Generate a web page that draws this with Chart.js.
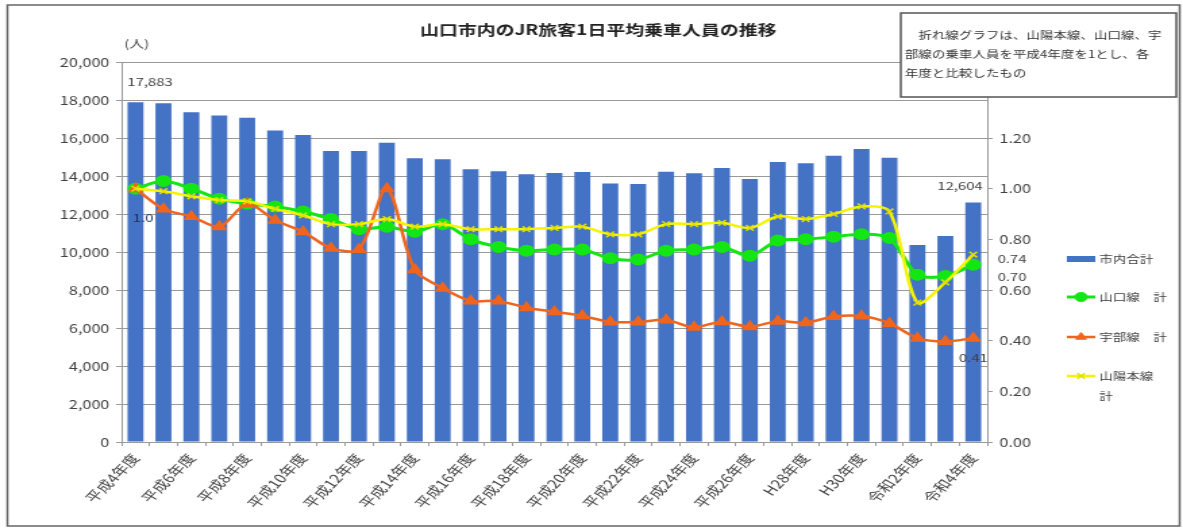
<!DOCTYPE html>
<html lang="ja">
<head>
<meta charset="utf-8">
<title>山口市内のJR旅客1日平均乗車人員の推移</title>
<script src="https://cdn.jsdelivr.net/npm/chart.js@4.4.1/dist/chart.umd.min.js"></script>
<style>
  html, body { margin: 0; padding: 0; background: #fff; overflow: hidden; }
  #wrap { width: 1183px; height: 530px; }
  /* the original picture is stretched sideways, so the canvas is too */
  #grafico { transform: scaleX(1.3505); transform-origin: 0 0; }
</style>
</head>
<body>
<div id="wrap"><canvas id="grafico" width="876" height="530"></canvas></div>
<script>
const titulo = '山口市内のJR旅客1日平均乗車人員の推移';
const nota = ['　折れ線グラフは、山陽本線、山口線、宇', '部線の乗車人員を平成4年度を1とし、各', '年度と比較したもの'];

const nendo = ['平成4年度', '平成5年度', '平成6年度', '平成7年度', '平成8年度', '平成9年度', '平成10年度',
  '平成11年度', '平成12年度', '平成13年度', '平成14年度', '平成15年度', '平成16年度', '平成17年度',
  '平成18年度', '平成19年度', '平成20年度', '平成21年度', '平成22年度', '平成23年度', '平成24年度',
  '平成25年度', '平成26年度', '平成27年度', 'H28年度', 'H29年度', 'H30年度', '令和元年度',
  '令和2年度', '令和3年度', '令和4年度'];

// 市内合計 (人)
const shinaiGokei = [17883, 17830, 17350, 17190, 17070, 16400, 16160, 15320, 15320, 15750,
  14930, 14880, 14350, 14250, 14090, 14160, 14210, 13610, 13580, 14230,
  14140, 14420, 13840, 14740, 14670, 15070, 15420, 14960, 10370, 10840, 12604];

// 平成4年度を1とした比
const yamaguchiSen = [1.00, 1.03, 1.00, 0.96, 0.94, 0.93, 0.91, 0.88, 0.84, 0.85,
  0.83, 0.86, 0.80, 0.77, 0.755, 0.76, 0.76, 0.725, 0.72, 0.755,
  0.76, 0.77, 0.735, 0.795, 0.80, 0.81, 0.82, 0.805, 0.66, 0.655, 0.70];
const ubeSen = [1.00, 0.92, 0.89, 0.85, 0.94, 0.875, 0.83, 0.765, 0.76, 1.00,
  0.68, 0.607, 0.557, 0.557, 0.53, 0.514, 0.498, 0.474, 0.474, 0.482,
  0.453, 0.475, 0.455, 0.477, 0.471, 0.495, 0.497, 0.468, 0.41, 0.397, 0.41];
const sanyoHonsen = [1.00, 0.99, 0.97, 0.955, 0.95, 0.92, 0.895, 0.86, 0.86, 0.88,
  0.85, 0.86, 0.84, 0.84, 0.84, 0.845, 0.85, 0.82, 0.82, 0.86,
  0.86, 0.865, 0.845, 0.89, 0.88, 0.90, 0.93, 0.91, 0.55, 0.63, 0.74];

const fuente = "'Noto Sans CJK JP', 'Noto Sans', sans-serif";
Chart.defaults.font.family = fuente;
Chart.defaults.color = '#404040';

const hanrei = [
  { ds: 0, y: 259, texto: ['市内合計'] },
  { ds: 1, y: 297, texto: ['山口線　計'] },
  { ds: 2, y: 337, texto: ['宇部線　計'] },
  { ds: 3, y: 376, texto: ['山陽本線', '計'] }
];

const adornos = {
  id: 'adornos',
  beforeDraw(chart) {
    const ctx = chart.ctx;
    ctx.save();
    ctx.fillStyle = '#fff';
    ctx.fillRect(0, 0, chart.width, chart.height);
    ctx.restore();
  },
  afterDatasetsDraw(chart) {
    const ctx = chart.ctx;
    const barras = chart.getDatasetMeta(0).data;
    const ultimo = barras.length - 1;
    ctx.save();
    ctx.font = '11px ' + fuente;
    ctx.fillStyle = '#404040';
    ctx.textBaseline = 'middle';
    // valores del primer y ultimo año
    ctx.textAlign = 'left';
    ctx.fillText(shinaiGokei[0].toLocaleString('en-US'), barras[0].x - 6, barras[0].y - 20);
    ctx.textAlign = 'right';
    ctx.fillText(shinaiGokei[ultimo].toLocaleString('en-US'), barras[ultimo].x + 7, barras[ultimo].y - 17);

    const p0 = chart.getDatasetMeta(1).data[0];
    ctx.textAlign = 'left';
    ctx.fillStyle = '#1f2f5a';
    ctx.fillText(yamaguchiSen[0].toFixed(1), p0.x - 2, p0.y + 29);

    ctx.fillStyle = '#404040';
    const pa = chart.getDatasetMeta(3).data[ultimo];
    const pv = chart.getDatasetMeta(1).data[ultimo];
    const pn = chart.getDatasetMeta(2).data[ultimo];
    ctx.fillText(sanyoHonsen[ultimo].toFixed(2), pa.x + 18, pa.y + 4);
    ctx.fillText(yamaguchiSen[ultimo].toFixed(2), pv.x + 18, pv.y + 12);
    ctx.textAlign = 'center';
    ctx.fillText(ubeSen[ultimo].toFixed(2), pn.x, pn.y + 20);
    ctx.restore();
  },
  afterDraw(chart) {
    const ctx = chart.ctx;
    ctx.save();
    // titulo
    ctx.fillStyle = '#222';
    ctx.font = 'bold 14px ' + fuente;
    ctx.textAlign = 'center';
    ctx.textBaseline = 'middle';
    ctx.fillText(titulo, 443, 30);
    ctx.font = '11px ' + fuente;
    ctx.textAlign = 'left';
    ctx.fillStyle = '#404040';
    ctx.fillText('(人)', 92, 44);

    // leyenda
    hanrei.forEach(h => {
      const ds = chart.data.datasets[h.ds];
      if (ds.type === 'bar') {
        ctx.fillStyle = ds.backgroundColor;
        ctx.fillRect(790, h.y - 3, 21, 6);
      } else {
        ctx.strokeStyle = ds.borderColor;
        ctx.lineWidth = ds.borderWidth;
        ctx.beginPath();
        ctx.moveTo(790, h.y);
        ctx.lineTo(811, h.y);
        ctx.stroke();
        ctx.fillStyle = ds.pointBackgroundColor;
        ctx.strokeStyle = ds.pointBorderColor;
        ctx.lineWidth = ds.pointBorderWidth || 1;
        Chart.helpers.drawPoint(ctx, { pointStyle: ds.pointStyle, radius: ds.pointRadius, rotation: 0, borderWidth: ds.pointBorderWidth || 1 }, 800.5, h.y);
      }
      ctx.fillStyle = '#404040';
      ctx.font = '10px ' + fuente;
      h.texto.forEach((t, k) => ctx.fillText(t, 814, h.y + k * 20));
    });

    // recuadro de nota
    ctx.fillStyle = '#fff';
    ctx.fillRect(667, 13, 204, 84);
    ctx.strokeStyle = '#555';
    ctx.lineWidth = 1.5;
    ctx.strokeRect(667, 13, 204, 84);
    ctx.fillStyle = '#333';
    ctx.font = '10px ' + fuente;
    nota.forEach((t, k) => ctx.fillText(t, 670, 35 + k * 19));

    // marco
    ctx.strokeStyle = '#666';
    ctx.lineWidth = 1.5;
    ctx.strokeRect(5.5, 5, 868, 521);
    ctx.restore();
  }
};

new Chart('grafico', {
  data: {
    labels: nendo,
    datasets: [
      {
        type: 'bar',
        label: '市内合計',
        data: shinaiGokei,
        backgroundColor: '#4472c4',
        yAxisID: 'y',
        order: 4,
        barPercentage: 0.57,
        categoryPercentage: 1
      },
      {
        type: 'line',
        label: '山口線　計',
        data: yamaguchiSen,
        borderColor: '#14e614',
        backgroundColor: '#14e614',
        pointBackgroundColor: '#14e614',
        pointBorderColor: '#14e614',
        pointStyle: 'circle',
        pointRadius: 4.5,
        borderWidth: 3,
        tension: 0.3,
        yAxisID: 'y1',
        order: 3
      },
      {
        type: 'line',
        label: '宇部線　計',
        data: ubeSen,
        borderColor: '#f0651e',
        backgroundColor: '#f0651e',
        pointBackgroundColor: '#f0651e',
        pointBorderColor: '#f0651e',
        pointStyle: 'triangle',
        pointRadius: 4.5,
        borderWidth: 2.5,
        tension: 0.3,
        yAxisID: 'y1',
        order: 2
      },
      {
        type: 'line',
        label: '山陽本線　計',
        data: sanyoHonsen,
        borderColor: '#f4f400',
        backgroundColor: '#f4f400',
        pointBackgroundColor: '#f4f400',
        pointBorderColor: '#e0e000',
        pointBorderWidth: 1.5,
        pointStyle: 'crossRot',
        pointRadius: 4,
        borderWidth: 2.5,
        tension: 0.3,
        yAxisID: 'y1',
        order: 1
      }
    ]
  },
  options: {
    responsive: false,
    animation: false,
    devicePixelRatio: 1,
    layout: { padding: { top: 62, left: 0, right: 95, bottom: 0 } },
    plugins: {
      legend: { display: false },
      title: { display: false },
      tooltip: { enabled: false }
    },
    scales: {
      x: {
        grid: { drawOnChartArea: false, color: '#999', tickLength: 4, offset: true },
        border: { color: '#999' },
        ticks: {
          autoSkip: false,
          minRotation: 53,
          maxRotation: 53,
          padding: 5,
          font: { size: 12.5 },
          callback: function(v, i) { return i % 2 === 0 ? this.getLabelForValue(v) : ''; }
        },
        afterFit(s) { s.height = 88; }
      },
      y: {
        position: 'left',
        min: 0,
        max: 20000,
        ticks: { stepSize: 2000, font: { size: 12 }, padding: 5, callback: v => v.toLocaleString('en-US') },
        grid: { color: '#999', tickLength: 4 },
        border: { color: '#999' },
        afterFit(s) { s.width = 90; }
      },
      y1: {
        position: 'right',
        min: 0,
        max: 1.5,
        ticks: { stepSize: 0.2, font: { size: 12 }, padding: 5, callback: v => v.toFixed(2) },
        grid: { drawOnChartArea: false, color: '#999', tickLength: 4 },
        border: { color: '#999' },
        afterFit(s) { s.width = 50; }
      }
    }
  },
  plugins: [adornos]
});
</script>
</body>
</html>
